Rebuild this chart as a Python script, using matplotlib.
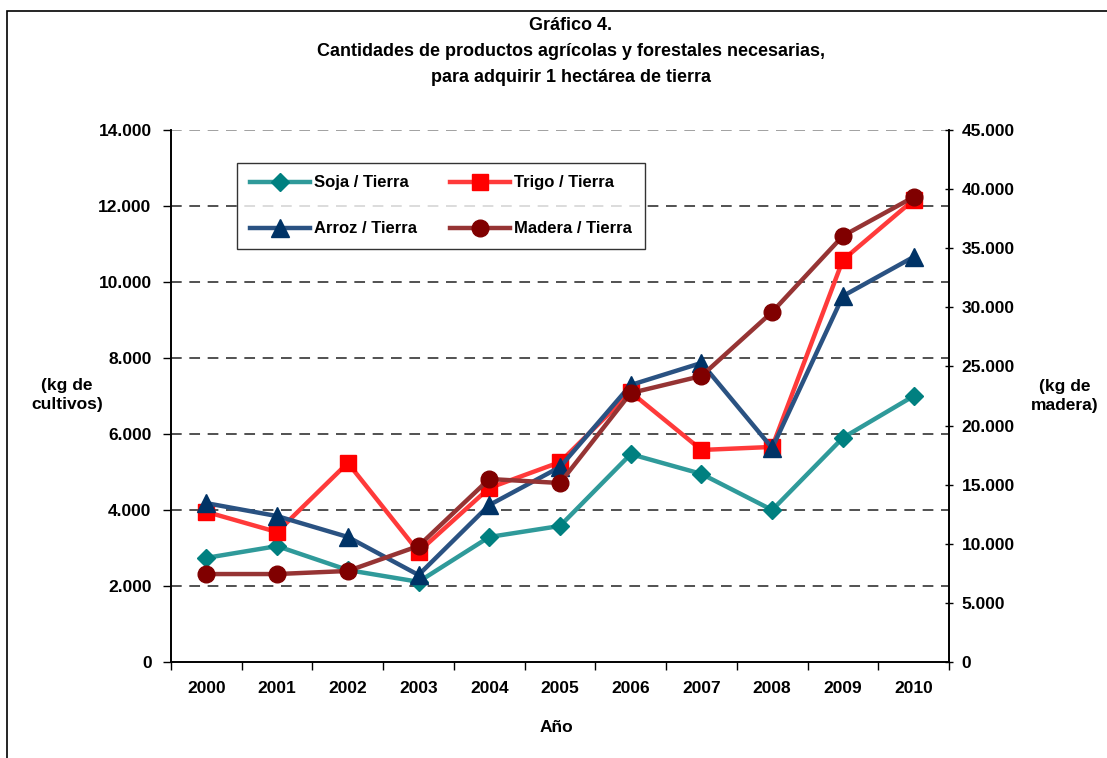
import matplotlib
matplotlib.use("Agg")
import matplotlib.pyplot as plt
from matplotlib.patches import Rectangle
from matplotlib.ticker import FuncFormatter

plt.rcParams['font.family'] = ['Liberation Sans', 'DejaVu Sans']
plt.rcParams['font.weight'] = 'bold'

years = ['2000', '2001', '2002', '2003', '2004', '2005', '2006', '2007', '2008', '2009', '2010']
soja = [2740, 3050, 2420, 2110, 3290, 3580, 5470, 4950, 4000, 5900, 7000]
trigo = [3950, 3420, 5240, 2900, 4580, 5260, 7100, 5580, 5660, 10580, 12160]
arroz = [4180, 3840, 3290, 2290, 4130, 5130, 7290, 7870, 5630, 9630, 10660]
madera = [7440, 7440, 7700, 9810, 15480, 15140, 22750, 24190, 29610, 36040, 39330]

W, H = 1107, 758
fig = plt.figure(figsize=(W / 100, H / 100), dpi=100)

# outer frame of the chart area (runs off the right and bottom edges)
fig.add_artist(Rectangle((7 / W, -0.1), 1.2, (H - 11) / H + 0.1, transform=fig.transFigure,
                         fill=False, edgecolor='black', linewidth=1.2))

ax = fig.add_axes([171 / W, (H - 662) / H, (949 - 171) / W, (662 - 130) / H])
ax2 = ax.twinx()

x = range(len(years))
lw = 3.2
# lines a bit lighter than the markers, like Excel's patterned lines
l1, = ax.plot(x, soja, color='#2f9a9a', lw=lw, marker='D', ms=9, mfc='#008080', mec='#008080',
              label='Soja / Tierra', zorder=3)
l2, = ax.plot(x, trigo, color='#ff3a3a', lw=lw, marker='s', ms=11, mfc='#FF0000', mec='#FF0000',
              label='Trigo / Tierra', zorder=4)
l3, = ax.plot(x, arroz, color='#2a5282', lw=lw, marker='^', ms=13, mfc='#003366', mec='#003366',
              label='Arroz / Tierra', zorder=5)
l4, = ax2.plot(x, madera, color='#963434', lw=lw, marker='o', ms=12, mfc='#800000', mec='#800000',
               label='Madera / Tierra', zorder=3)

fmt = FuncFormatter(lambda v, p: f"{int(v):,}".replace(',', '.'))

ax.set_xlim(-0.5, 10.5)
ax.set_ylim(0, 14000)
ax.set_yticks(range(0, 14001, 2000))
ax.yaxis.set_major_formatter(fmt)
ax.set_xticks(range(len(years)))
ax.set_xticklabels(years)
ax.set_xticks([i - 0.5 for i in range(len(years) + 1)], minor=True)
ax.tick_params(axis='x', which='major', length=0, pad=14, labelsize=12.5)
ax.tick_params(axis='x', which='minor', length=6, width=1, direction='out')
ax.tick_params(axis='y', length=6, width=1, direction='out', labelsize=12.5, pad=8)

ax2.set_ylim(0, 45000)
ax2.set_yticks(range(0, 45001, 5000))
ax2.yaxis.set_major_formatter(fmt)
ax2.tick_params(axis='y', length=6, width=1, direction='inout', labelsize=12.5, pad=6)

for a in (ax, ax2):
    a.spines['top'].set_visible(False)
    for s in ('left', 'right', 'bottom'):
        a.spines[s].set_linewidth(1.2)

for v in range(2000, 14001, 2000):
    ax.axhline(v, color='#222222' if v < 14000 else '#888888', lw=1.1,
               linestyle=(0, (7, 5)), zorder=1)

fig.text(571 / W, 1 - 25 / H, 'Gráfico 4.', ha='center', va='center', fontsize=13)
fig.text(571 / W, 1 - 52 / H, 'Cantidades de productos agrícolas y forestales necesarias,',
         ha='center', va='center', fontsize=13)
fig.text(571 / W, 1 - 77 / H, 'para adquirir 1 hectárea de tierra', ha='center', va='center', fontsize=13)

fig.text(556 / W, 1 - 727 / H, 'Año', ha='center', va='center', fontsize=12.5)
fig.text(67 / W, 1 - 395 / H, '(kg de\ncultivos)', ha='center', va='center', fontsize=12.5,
         linespacing=1.4)
fig.text(1065 / W, 1 - 396 / H, '(kg de\nmadera)', ha='center', va='center', fontsize=12.5,
         linespacing=1.4)

# column-wise fill: Soja/Trigo on top row, Arroz/Madera below
hs = [l1, l3, l2, l4]
leg = ax2.legend(hs, [h.get_label() for h in hs], ncol=2,
                 loc='upper left', bbox_to_anchor=(237 / W, 1 - 163 / H),
                 bbox_transform=fig.transFigure, frameon=True, fancybox=False,
                 edgecolor='black', fontsize=12, handlelength=3.6, handletextpad=0.25,
                 columnspacing=2.0, labelspacing=1.85, borderpad=0.75, borderaxespad=0)
leg.get_frame().set_linewidth(1.0)
leg.set_zorder(10)

fig.savefig('out.png', dpi=100)
